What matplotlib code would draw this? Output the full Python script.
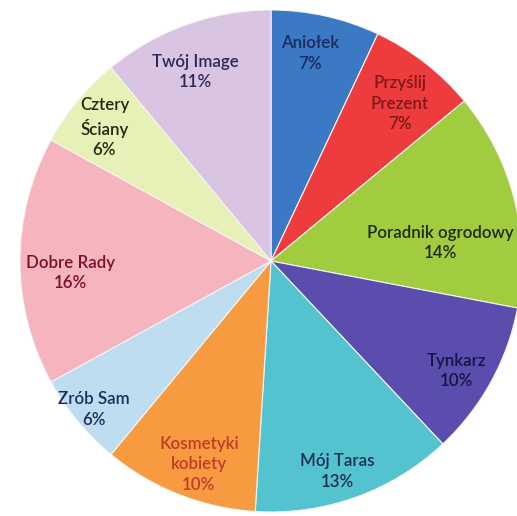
import matplotlib
matplotlib.use("Agg")
import matplotlib.pyplot as plt
import numpy as np

categories = ["Aniołek", "Przyślij\nPrezent", "Poradnik ogrodowy", "Tynkarz", "Mój Taras",
              "Kosmetyki\nkobiety", "Zrób Sam", "Dobre Rady", "Cztery\nŚciany", "Twój Image"]
values = [7, 7, 14, 10, 13, 10, 6, 16, 6, 11]

colors = ["#3B79C4", "#EE3B3D", "#A2CC3F", "#5A4DAE", "#52C3CF",
          "#F89B40", "#BEDDF0", "#F5B4BE", "#E7F0B6", "#D9C4E1"]
text_colors = ["#1C2A5A", "#7E1A1A", "#1E2A12", "#16163C", "#1E2E52",
               "#C23A2A", "#1E2E5C", "#7A1224", "#1E2A12", "#2A2A5A"]
# per-label placement (radius fraction, angle offset in degrees)
label_r = [0.84, 0.81, 0.68, 0.86, 0.88, 0.86, 0.92, 0.80, 0.85, 0.81]
label_da = [2, -1.6, -8.4, -1.8, -2.4, 2.1, 0.4, 3.4, 0.9, 1.9]

W, H = 517, 516
fig = plt.figure(figsize=(W / 100, H / 100), dpi=100)
ax = fig.add_axes([0, 0, 1, 1])

cx, cy, R = 271, 516 - 261, 251
wedges, _ = ax.pie(values, colors=colors, startangle=90, counterclock=False,
                   center=(cx, cy), radius=R, frame=True,
                   wedgeprops=dict(edgecolor="#f4f4f4", linewidth=0.8))
ax.set_xlim(0, W)
ax.set_ylim(0, H)
ax.set_aspect("equal")
ax.axis("off")

for w, name, v, tc, rf, da in zip(wedges, categories, values, text_colors, label_r, label_da):
    ang = np.deg2rad((w.theta1 + w.theta2) / 2 + da)
    x = cx + rf * R * np.cos(ang)
    y = cy + rf * R * np.sin(ang)
    ax.text(x, y, f"{name}\n{v}%", ha="center", va="center", color=tc,
            fontsize=12.2, fontweight="semibold", family=["Lato", "DejaVu Sans"],
            linespacing=1.35)

fig.savefig("out.png", dpi=100)
